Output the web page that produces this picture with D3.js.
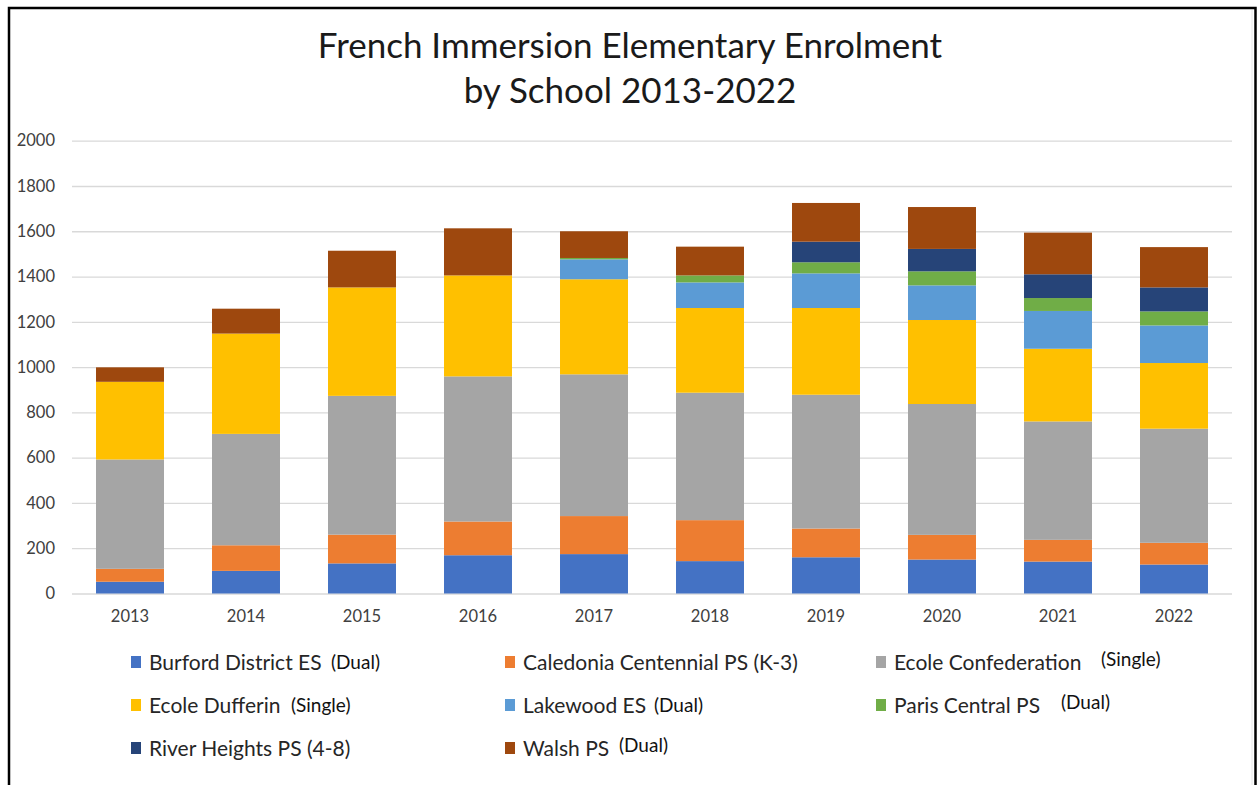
<!DOCTYPE html>
<html>
<head>
<meta charset="utf-8">
<script src="https://cdn.jsdelivr.net/npm/d3@7"></script>
<style>
  html, body { margin: 0; padding: 0; background: #fff; }
  svg { display: block; }
</style>
</head>
<body>
<svg id="chart" width="1259" height="785"></svg>
<script>
// ---- DATA ----
const years = ["2013","2014","2015","2016","2017","2018","2019","2020","2021","2022"];
const schools = ["Burford District ES","Caledonia Centennial PS (K-3)","Ecole Confederation","Ecole Dufferin","Lakewood ES","Paris Central PS","River Heights PS (4-8)","Walsh PS"];
const schoolNotes = ["(Dual)","","(Single)","(Single)","(Dual)","(Dual)","","(Dual)"];
const burford     = [52, 100, 133, 169, 174, 143, 160, 150, 141, 128];
const caledonia   = [57, 113, 127, 149, 168, 181, 127, 109,  96,  96];
const confed      = [483, 492, 613, 641, 626, 563, 591, 578, 523, 504];
const dufferin    = [343, 443, 479, 446, 420, 374, 383, 371, 321, 290];
const lakewood    = [0, 0, 0, 0, 88, 113, 153, 153, 167, 166];
const parisCentral= [0, 0, 0, 0, 6, 31, 49, 62, 57, 62];
const riverHeights= [0, 0, 0, 0, 0, 0, 91, 99, 105, 106];
const walsh       = [64, 110, 162, 208, 118, 127, 171, 185, 184, 178];
const yTicks = [0, 200, 400, 600, 800, 1000, 1200, 1400, 1600, 1800, 2000];
const titleLines = ["French Immersion Elementary Enrolment", "by School 2013-2022"];

const seriesValues = [burford, caledonia, confed, dufferin, lakewood, parisCentral, riverHeights, walsh];
const colors = ["#4472C4","#ED7D31","#A5A5A5","#FFC000","#5B9BD5","#70AD47","#264478","#9E480E"];

// ---- LAYOUT ----
const svg = d3.select("#chart");
const plot = {left: 72, right: 1232, top: 140.7, bottom: 593.5};
const font = "Lato, 'Open Sans', sans-serif";

// frame
svg.append("rect").attr("x", 0).attr("y", 0).attr("width", 1259).attr("height", 785).attr("fill", "#fff");
svg.append("path")
  .attr("d", "M9,790 L9,8 L1255.5,8 L1255.5,790")
  .attr("fill", "none").attr("stroke", "#000").attr("stroke-width", 2.5);
svg.append("line").attr("x1", 1252).attr("x2", 1252).attr("y1", 10).attr("y2", 790)
  .attr("stroke", "#e6e6e6").attr("stroke-width", 1);

// data table
const table = years.map((y, i) => {
  const row = {year: y};
  schools.forEach((s, j) => row[s] = seriesValues[j][i]);
  return row;
});
const stack = d3.stack().keys(schools)(table);

const x = d3.scaleBand().domain(years).range([plot.left, plot.right]).paddingInner(0.414).paddingOuter(0.207);
const y = d3.scaleLinear().domain([0, 2000]).range([plot.bottom, plot.top]);
const color = d3.scaleOrdinal().domain(schools).range(colors);

// grid
const gridAxis = d3.axisLeft(y).tickValues(yTicks).tickSize(-(plot.right - plot.left)).tickFormat("");
const grid = svg.append("g").attr("transform", `translate(${plot.left},0)`).call(gridAxis);
grid.select(".domain").remove();
grid.selectAll(".tick line").attr("stroke", "#d9d9d9").attr("stroke-width", 1.3);

// y labels
const yAxis = d3.axisLeft(y).tickValues(yTicks).tickSize(0).tickPadding(17).tickFormat(d3.format("d"));
const ya = svg.append("g").attr("transform", `translate(${plot.left},0)`).call(yAxis);
ya.select(".domain").remove();
ya.selectAll("text").attr("font-family", font).attr("font-size", 16.5).attr("fill", "#404040");

// bars
svg.append("g").selectAll("g").data(stack).join("g")
  .attr("fill", d => color(d.key))
  .selectAll("rect").data(d => d).join("rect")
  .attr("x", d => x(d.data.year))
  .attr("width", x.bandwidth())
  .attr("y", d => y(d[1]))
  .attr("height", d => y(d[0]) - y(d[1]));

// x axis
const xAxis = d3.axisBottom(x).tickSize(0).tickPadding(17);
const xa = svg.append("g").attr("transform", `translate(0,${plot.bottom})`).call(xAxis);
xa.select(".domain").remove();
xa.selectAll("text").attr("font-family", font).attr("font-size", 16.5).attr("fill", "#404040");

// title
svg.append("g").selectAll("text").data(titleLines).join("text")
  .attr("x", 630).attr("y", (d, i) => 58 + i * 45)
  .attr("text-anchor", "middle")
  .attr("font-family", font).attr("font-size", 35).attr("fill", "#1a1a1a")
  .text(d => d);

// legend
const colX = [131, 505, 876];
const rowY = [662, 705, 748];
const noteX = [331, null, 1101, 291, 654, 1061, null, 619];
const noteDy = [0, 0, -3, 0, 0, -3, 0, -3];
const leg = svg.append("g");
schools.forEach((s, i) => {
  const cx = colX[i % 3], cy = rowY[Math.floor(i / 3)];
  leg.append("rect").attr("x", cx).attr("y", cy - 6).attr("width", 10).attr("height", 12).attr("fill", color(s));
  leg.append("text").attr("x", cx + 18).attr("y", cy + 7.5)
    .attr("font-family", font).attr("font-size", 21).attr("fill", "#262626").text(s);
  if (schoolNotes[i]) {
    leg.append("text").attr("x", noteX[i]).attr("y", cy + 7 + noteDy[i])
      .attr("font-family", font).attr("font-size", 19).attr("fill", "#111").text(schoolNotes[i]);
  }
});
</script>
</body>
</html>
